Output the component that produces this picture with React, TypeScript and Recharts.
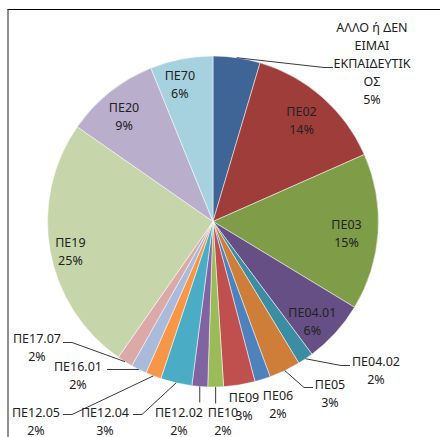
import React from "react";
import { PieChart, Pie, Cell } from "recharts";

const categories = [
  "ΑΛΛΟ ή ΔΕΝ ΕΙΜΑΙ ΕΚΠΑΙΔΕΥΤΙΚΟΣ",
  "ΠΕ02",
  "ΠΕ03",
  "ΠΕ04.01",
  "ΠΕ04.02",
  "ΠΕ05",
  "ΠΕ06",
  "ΠΕ09",
  "ΠΕ10",
  "ΠΕ12.02",
  "ΠΕ12.04",
  "ΠΕ12.05",
  "ΠΕ16.01",
  "ΠΕ17.07",
  "ΠΕ19",
  "ΠΕ20",
  "ΠΕ70",
];
const counts = [9, 27, 30, 12, 3, 6, 3, 6, 3, 3, 6, 3, 3, 3, 49, 18, 12];

const colors = [
  "#3F6597",
  "#9E3D3A",
  "#7F9C48",
  "#664F84",
  "#3A8DA2",
  "#CE7E39",
  "#4F81BD",
  "#C0504D",
  "#9BBB59",
  "#8064A2",
  "#4BACC6",
  "#F79646",
  "#A9BADA",
  "#DAA9A8",
  "#C6D6AA",
  "#B9AECC",
  "#A6D2DF",
];

// label layout: inside (radius factor + clockwise angle nudge) or outside with offsets from the pie centre
type LabelLayout =
  | { kind: "in"; r: number; da: number }
  | { kind: "out"; tx: number; ty: number; leader?: "right" | "left" | "down"; lx?: number; ly?: number };

const labelLayout: LabelLayout[] = [
  { kind: "out", tx: 159, ty: -194, leader: "right", lx: 120, ly: -154 },
  { kind: "in", r: 0.81, da: 0 },
  { kind: "in", r: 0.81, da: 1.4 },
  { kind: "in", r: 0.85, da: 2.8 },
  { kind: "out", tx: 163, ty: 140, leader: "right", lx: 137, ly: 144 },
  { kind: "out", tx: 117, ty: 163, leader: "right", lx: 100, ly: 166 },
  { kind: "out", tx: 65, ty: 174 },
  { kind: "out", tx: 31, ty: 176 },
  { kind: "out", tx: 10, ty: 191, leader: "down", ly: 182 },
  { kind: "out", tx: -34, ty: 191, leader: "down", ly: 181 },
  { kind: "out", tx: -108, ty: 191, leader: "left", lx: -80, ly: 193 },
  { kind: "out", tx: -177, ty: 191, leader: "left", lx: -150, ly: 193 },
  { kind: "out", tx: -135, ty: 145, leader: "left", lx: -106, ly: 148 },
  { kind: "out", tx: -176, ty: 117, leader: "left", lx: -150, ly: 121 },
  { kind: "in", r: 0.88, da: -1.7 },
  { kind: "in", r: 0.83, da: -1.8 },
  { kind: "in", r: 0.85, da: -2.6 },
];

const total = counts.reduce((a, b) => a + b, 0);
const data = categories.map((name, i) => ({ name, value: counts[i] }));

const WIDTH = 440;
const HEIGHT = 437;
const CX = 213;
const CY = 221.5;
const R = 165.5;
const FONT = "'Noto Sans', 'DejaVu Sans', sans-serif";
const FS = 12.5;
const LINE_H = 18;
const RAD = Math.PI / 180;

function wrap(text: string, maxChars: number): string[] {
  const words = text.split(" ");
  const lines: string[] = [];
  let cur = "";
  for (const w0 of words) {
    let w = w0;
    const candidate = cur ? cur + " " + w : w;
    if (candidate.length <= maxChars) {
      cur = candidate;
      continue;
    }
    if (cur) lines.push(cur);
    cur = "";
    while (w.length > maxChars) {
      lines.push(w.slice(0, maxChars));
      w = w.slice(maxChars);
    }
    cur = w;
  }
  if (cur) lines.push(cur);
  return lines;
}

const renderLabel = (props: any) => {
  const { index, midAngle } = props;
  const cx = typeof props.cx === "number" ? props.cx : CX;
  const cy = typeof props.cy === "number" ? props.cy : CY;
  const outerRadius = typeof props.outerRadius === "number" ? props.outerRadius : R;
  const lay = labelLayout[index];
  const pct = Math.round((counts[index] / total) * 100) + "%";
  const lines = [...wrap(categories[index], 11), pct];
  let tx: number;
  let ty: number;
  let leader: React.ReactNode = null;
  if (lay.kind === "in") {
    const a = -(midAngle - lay.da) * RAD;
    const r = outerRadius * lay.r;
    tx = cx + r * Math.cos(a);
    ty = cy + r * Math.sin(a) - ((lines.length - 1) * LINE_H) / 2;
  } else {
    const a = -midAngle * RAD;
    tx = cx + lay.tx;
    ty = cy + lay.ty;
    if (lay.leader) {
      const ex = cx + outerRadius * Math.cos(a);
      const ey = cy + outerRadius * Math.sin(a);
      let pts: number[][];
      if (lay.leader === "down") {
        pts = [
          [ex, ey],
          [ex, cy + (lay.ly as number)],
        ];
      } else {
        const lx = cx + (lay.lx as number);
        const ly = cy + (lay.ly as number);
        const elbow = lay.leader === "right" ? lx - 9 : lx + 9;
        pts = [
          [ex, ey],
          [elbow, ly],
          [lx, ly],
        ];
      }
      leader = (
        <polyline
          points={pts.map((p) => p.join(",")).join(" ")}
          fill="none"
          stroke="#3a3a3a"
          strokeWidth={1}
        />
      );
    }
  }
  return (
    <g key={`lbl-${index}`}>
      {leader}
      <text
        x={tx}
        y={ty}
        textAnchor="middle"
        fill="#222222"
        fontFamily={FONT}
        fontSize={FS}
      >
        {lines.map((l, i) => (
          <tspan key={i} x={tx} y={ty + i * LINE_H} dominantBaseline="central">
            {l}
          </tspan>
        ))}
      </text>
    </g>
  );
};

export default function App() {
  return (
    <div
      style={{
        position: "absolute",
        left: 0,
        top: 0,
        width: WIDTH,
        height: HEIGHT,
        background: "#fff",
        overflow: "hidden",
      }}
    >
      <div
        style={{
          position: "absolute",
          left: 7,
          top: 9,
          width: WIDTH,
          height: HEIGHT,
          borderTop: "1px solid #000",
          borderLeft: "2px solid #8f8f8f",
        }}
      />
      <div style={{ position: "absolute", left: 0, top: 0 }}>
        <PieChart width={WIDTH} height={HEIGHT} margin={{ top: 0, right: 0, bottom: 0, left: 0 }}>
          <Pie
            data={data}
            dataKey="value"
            nameKey="name"
            cx={CX}
            cy={CY}
            outerRadius={R}
            startAngle={90}
            endAngle={-270}
            stroke="#ffffff"
            strokeWidth={0.5}
            isAnimationActive={false}
            label={renderLabel}
            labelLine={false}
          >
            {data.map((d, i) => (
              <Cell key={d.name} fill={colors[i]} />
            ))}
          </Pie>
        </PieChart>
      </div>
    </div>
  );
}
